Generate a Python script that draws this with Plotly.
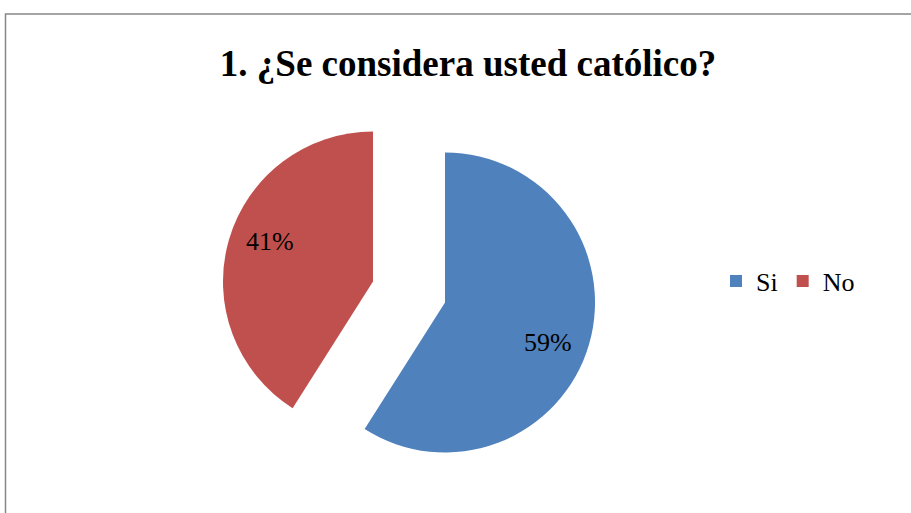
import math
import plotly.graph_objects as go

categories = ["Si", "No"]
values = [59, 41]
colors = ["#4F81BD", "#C0504D"]
title_text = "1. ¿Se considera usted católico?"

W, H = 911, 513
cx, cy, r_tot = 409, 292, 187.5
pull = 0.25

fig = go.Figure(go.Pie(
    labels=categories,
    values=values,
    marker=dict(colors=colors, line=dict(width=0)),
    sort=False,
    direction="clockwise",
    rotation=0,
    pull=[pull, pull],
    textinfo="none",
    domain=dict(x=[(cx - r_tot) / W, (cx + r_tot) / W],
                y=[(H - cy - r_tot) / H, (H - cy + r_tot) / H]),
    hoverinfo="label+percent",
))

# data labels placed along each slice's bisector (computed from the values)
r = r_tot / (1 + pull)
total = sum(values)
annotations = []
start = 0.0
for v in values:
    frac = v / total
    mid = (start + frac / 2) * 2 * math.pi
    vx = cx + pull * r * math.sin(mid)
    vy = cy - pull * r * math.cos(mid)
    ang = mid + math.radians(5)
    lx = vx + 0.74 * r * math.sin(ang)
    ly = vy - 0.74 * r * math.cos(ang)
    annotations.append(dict(x=lx / W, y=1 - ly / H, xref="paper", yref="paper",
                            xanchor="center", yanchor="middle",
                            text=f"{round(frac * 100)}%", showarrow=False,
                            font=dict(family="Liberation Serif", size=26, color="black")))
    start += frac

fig.update_layout(
    width=W, height=H,
    margin=dict(l=0, r=0, t=0, b=0),
    paper_bgcolor="white",
    title=dict(text="<b>" + title_text + "</b>", x=468 / W, xanchor="center",
               y=1 - 63 / H, yanchor="middle",
               font=dict(family="Liberation Serif", size=37, color="black")),
    showlegend=True,
    legend=dict(orientation="h", x=716 / W, xanchor="left", y=1 - 281 / H, yanchor="middle",
                font=dict(family="Liberation Serif", size=26, color="black"),
                itemwidth=30, tracegroupgap=0),
    annotations=annotations,
    shapes=[dict(type="rect", xref="paper", yref="paper",
                 x0=5.5 / W, x1=1.05, y0=-0.1, y1=1 - 14 / H,
                 line=dict(color="#868686", width=1.5), layer="below")],
)

fig.write_html("out.html")
